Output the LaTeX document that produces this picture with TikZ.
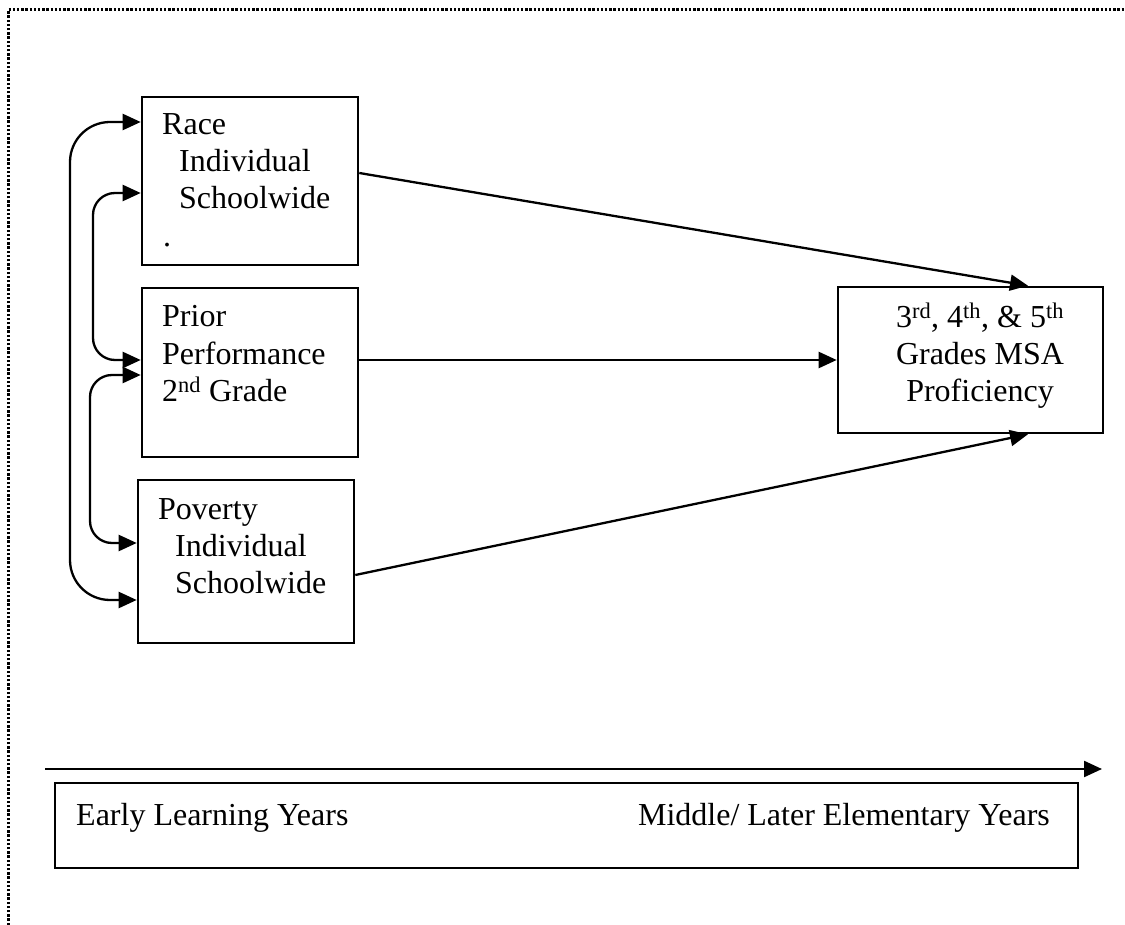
\documentclass[tikz,border=0pt]{standalone}
\usepackage{fontspec}
\setmainfont{Liberation Serif}
\usetikzlibrary{arrows.meta}
\newcommand\dgfs{\fontsize{32}{38}\selectfont}
\tikzset{
  box/.style={draw, line width=2.6pt, inner sep=0pt, rectangle},
  txt/.style={inner sep=0pt, font=\dgfs, anchor=base west},
  ctxt/.style={inner sep=0pt, font=\dgfs, anchor=base},
  rtxt/.style={inner sep=0pt, font=\dgfs, anchor=base east},
  conn/.style={line width=2.3pt, -{Triangle[length=18pt,width=16pt]}},
  biconn/.style={line width=2.3pt, {Triangle[length=18pt,width=16pt]}-{Triangle[length=18pt,width=16pt]}},
  frame/.style={line width=3pt, dash pattern=on 2.4pt off 1.8pt}
}
\begin{document}
\begin{tikzpicture}[x=1pt,y=-1pt]
\useasboundingbox (0,0) rectangle (1125,925);
% dotted frame
\draw[frame] (8,925) -- (8,10) -- (1125,10);

% boxes
\node[box, minimum width=216pt, minimum height=168pt] (race) at (250,181) {};
\node[box, minimum width=216pt, minimum height=169pt] (prior) at (250,372.5) {};
\node[box, minimum width=216pt, minimum height=163pt] (poverty) at (246,561.5) {};
\node[box, minimum width=265pt, minimum height=146pt] (target) at (970.5,360) {};
\node[box, minimum width=1023pt, minimum height=85pt] (years) at (566.5,825.5) {};

% texts
\node[txt] (t1) at (162,135) {Race};
\node[txt] (t2) at (179,172) {Individual};
\node[txt] (t3) at (179,209) {Schoolwide};
\node[txt] (t4) at (163,247) {.};

\node[txt] (p1) at (162,327) {Prior};
\node[txt] (p2) at (162,365) {Performance};
\node[txt] (p3) at (162,402) {2\textsuperscript{nd} Grade};

\node[txt] (v1) at (158,519) {Poverty};
\node[txt] (v2) at (175,556) {Individual};
\node[txt] (v3) at (175,593) {Schoolwide};

\node[ctxt] (g1) at (980,328) {3\textsuperscript{rd}, 4\textsuperscript{th}, \& 5\textsuperscript{th}};
\node[ctxt] (g2) at (980,365) {Grades MSA};
\node[ctxt] (g3) at (980,402) {Proficiency};

\node[txt] (y1) at (76,825) {Early Learning Years};
\node[rtxt] (y2) at (1050,825) {Middle/ Later Elementary Years};

% straight connectors
\draw[conn] ([yshift=8pt]race.east) -- ([xshift=57.5pt]target.north);
\draw[conn] ([yshift=12.5pt]prior.east) -- (target.west);
\draw[conn] ([yshift=-13.5pt]poverty.east) -- ([xshift=57.5pt]target.south);

% curved correlation connectors
\coordinate (c1) at (70,360);
\coordinate (c2) at (93,280);
\coordinate (c3) at (90,460);
\draw[biconn, rounded corners=40pt] ([yshift=59pt]race.west) -| (c1) |- ([yshift=-38.5pt]poverty.west);
\draw[biconn, rounded corners=22pt] ([yshift=-12pt]race.west) -| (c2) |- ([yshift=12.5pt]prior.west);
\draw[biconn, rounded corners=22pt] ([yshift=-2.5pt]prior.west) -| (c3) |- ([yshift=18.5pt]poverty.west);

% timeline arrow
\coordinate (ta) at (45,769);
\coordinate (tb) at (1102,769);
\draw[conn] (ta) -- (tb);
\end{tikzpicture}
\end{document}
